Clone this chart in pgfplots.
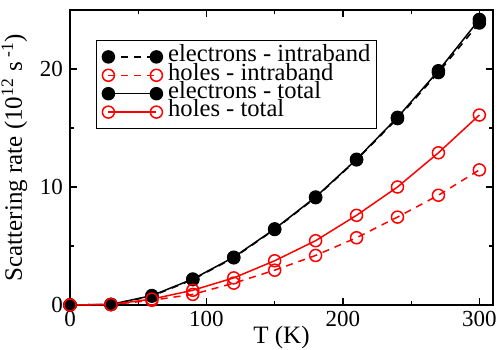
\documentclass[border=0pt]{standalone}
\usepackage{pgfplots}
\pgfplotsset{compat=1.18}
\usepackage{fontspec}
\setmainfont{Liberation Serif}
\begin{document}
\begin{tikzpicture}
\path[use as bounding box] (-35pt,-22pt) rectangle (213.5pt,152.5pt);
\begin{axis}[
  at={(0,0)}, anchor=south west,
  scale only axis, width=211.5pt, height=147.5pt,
  xmin=0, xmax=310, ymin=0, ymax=25,
  xtick={0,100,200,300}, minor xtick={50,150,250},
  ytick={0,10,20}, minor ytick={5,15},
  tick align=inside,
  major tick length=3.5pt, minor tick length=2pt,
  axis line style={line width=0.8pt},
  every tick/.style={black, line width=0.6pt},
  /pgf/number format/assume math mode=true,
  tick label style={font=\fontsize{11.5}{12}\selectfont},
  xticklabel style={yshift=0.5pt},
  label style={font=\fontsize{12.5}{13}\selectfont},
  xlabel={T (K)},
  ylabel={Scattering rate (10\textsuperscript{12} s\textsuperscript{ -1})},
  xlabel style={yshift=7pt},
  ylabel style={yshift=-0.5pt},
  legend cell align=left,
  legend style={at={(0.061,0.898)}, anchor=north west, draw=black, line width=0.6pt,
    font=\fontsize{12.3}{12}\selectfont, inner xsep=3pt, inner ysep=3.5pt,
    nodes={inner sep=0pt, text height=7pt, text depth=2.2pt}},
  legend image code/.code={
    \draw[#1] plot coordinates {(0pt,0pt) (24pt,0pt)};
    \path (29.5pt,0pt);
  },
]
\addplot[black, line width=0.75pt, dash pattern=on 3.5pt off 3pt, mark=*, mark size=3pt, mark options={solid}]
 coordinates {(0,0) (30,0.05) (60,0.75) (90,2.15) (120,4.0) (150,6.4) (180,9.1) (210,12.3) (240,15.8) (270,19.7) (300,23.9)};
\addlegendentry{electrons - intraband}
\addplot[red, line width=0.75pt, dash pattern=on 3.5pt off 3pt, mark=o, mark size=3pt, mark options={solid, line width=0.75pt}]
 coordinates {(0,0) (30,0.03) (60,0.4) (90,0.9) (120,1.85) (150,2.95) (180,4.2) (210,5.7) (240,7.45) (270,9.3) (300,11.45)};
\addlegendentry{holes - intraband}
\addplot[black, line width=0.75pt, mark=*, mark size=3pt]
 coordinates {(0,0) (30,0.05) (60,0.8) (90,2.2) (120,4.05) (150,6.45) (180,9.15) (210,12.35) (240,15.9) (270,19.85) (300,24.2)};
\addlegendentry{electrons - total}
\addplot[red, line width=0.75pt, mark=o, mark size=3pt, mark options={line width=0.75pt}]
 coordinates {(0,0) (30,0.04) (60,0.5) (90,1.25) (120,2.3) (150,3.75) (180,5.45) (210,7.6) (240,10.0) (270,12.9) (300,16.1)};
\addlegendentry{holes - total}
\end{axis}
\end{tikzpicture}
\end{document}
